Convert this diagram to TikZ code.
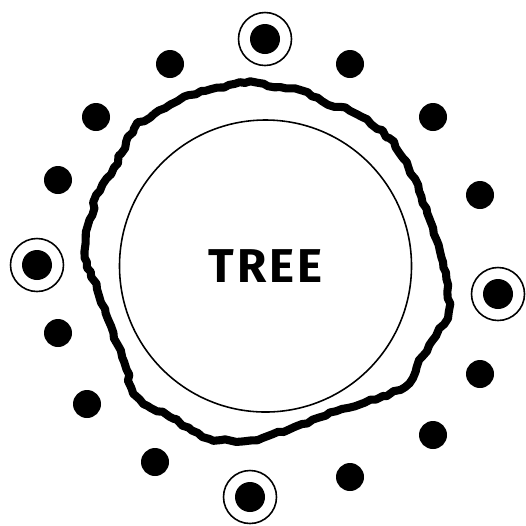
\documentclass[tikz,border=0pt]{standalone}
\usepackage{fontspec}
\newfontfamily\treefont{Fira Sans}[LetterSpace=6]
\usetikzlibrary{decorations.pathmorphing}

\begin{document}
\begin{tikzpicture}[
    x=0.02cm, y=-0.02cm,
    bead/.style={circle, fill=black, inner sep=0pt, minimum size=28*0.02cm},
    keybead/.style={circle, draw=black, line width=0.9pt, fill=white, inner sep=0pt,
                    minimum size=53*0.02cm, path picture={\fill[black] (path picture bounding box.center) circle (15);}},
    trunk/.style={draw=black, line width=0.9pt, circle, inner sep=0pt, minimum size=292*0.02cm},
    bark/.style={draw=black, line width=4.6pt, line join=round,
                 decorate, decoration={random steps, segment length=3.5pt, amplitude=0.9pt}},
  ]
  \useasboundingbox (0,0) rectangle (526,525);
  \pgfmathsetseed{7}

  % rough outline
  \draw[bark] plot[smooth cycle, tension=0.6] coordinates {
    (134,129) (154,114) (178,101) (205,91) (245,83) (268,86) (295,89) (322,101)
    (356,114) (389,138) (403,158) (419,191) (433,228) (443,262) (448,285)
    (448,312) (436,336) (423,356) (409,383) (383,396) (342,409) (302,424)
    (262,438) (221,440) (198,433) (174,419) (148,406) (134,393) (124,362)
    (111,326) (97,289) (87,262) (86,232) (92,215) (97,195) (111,174) (121,154)};

  \node[trunk, font=\treefont\bfseries\fontsize{27}{30}\selectfont] (tree) at (265.5,266) {TREE};

  % plain dots
  \foreach \x/\y [count=\i] in {170/64, 350/64, 96/117, 433/117, 58/180, 480/195,
      58/333, 480/374, 87/404, 433/435, 155/462, 350/477}
    \node[bead] (b\i) at (\x,\y) {};

  % circled dots
  \node[keybead] (north) at (265,39) {};
  \node[keybead] (west) at (37,265) {};
  \node[keybead] (east) at (498,294) {};
  \node[keybead] (south) at (250,497) {};
\end{tikzpicture}
\end{document}
